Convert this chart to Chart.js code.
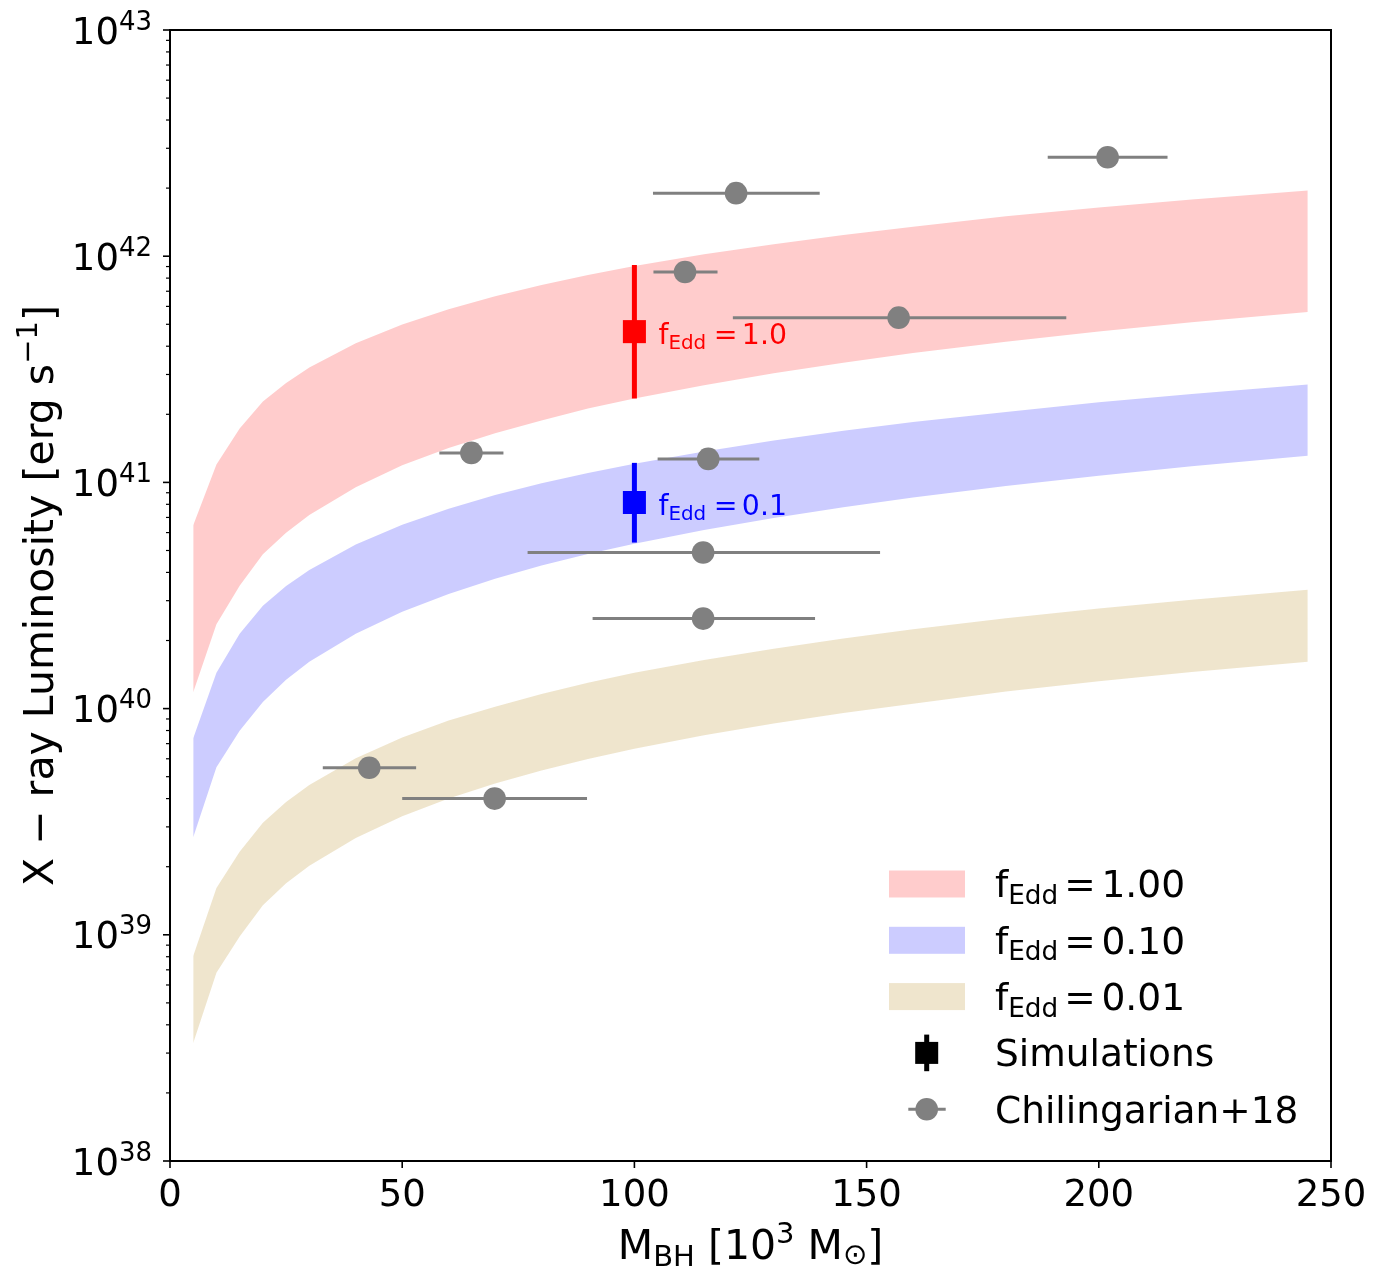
<!DOCTYPE html>
<html>
<head>
<meta charset="utf-8">
<script src="https://cdn.jsdelivr.net/npm/chart.js@4.4.0/dist/chart.umd.min.js"></script>
<style>
  body { margin: 0; background: #fff; }
  #wrap { width: 1383px; height: 1285px; }
</style>
</head>
<body>
<div id="wrap"><canvas id="chart"></canvas></div>
<script>
// black hole mass grid [10^3 Msun] used for the three bands
const massGrid = [5, 10, 15, 20, 25, 30, 40, 50, 60, 70, 80, 90, 100, 115, 130, 145, 160, 180, 200, 220, 245];

// band edges, X-ray luminosity [erg/s]
const redHi  = [6.47e40, 1.20e41, 1.73e41, 2.28e41, 2.75e41, 3.22e41, 4.12e41, 4.99e41, 5.83e41, 6.65e41, 7.46e41, 8.26e41, 9.04e41, 1.02e42, 1.13e42, 1.24e42, 1.35e42, 1.50e42, 1.64e42, 1.78e42, 1.95e42];
const redLo  = [1.18e40, 2.36e40, 3.49e40, 4.81e40, 5.99e40, 7.17e40, 9.52e40, 1.19e41, 1.42e41, 1.65e41, 1.88e41, 2.12e41, 2.35e41, 2.69e41, 3.04e41, 3.38e41, 3.73e41, 4.19e41, 4.65e41, 5.10e41, 5.67e41];
const blueHi = [7.40e39, 1.44e40, 2.14e40, 2.85e40, 3.48e40, 4.10e40, 5.31e40, 6.49e40, 7.64e40, 8.79e40, 9.91e40, 1.10e41, 1.21e41, 1.37e41, 1.53e41, 1.69e41, 1.85e41, 2.05e41, 2.26e41, 2.46e41, 2.71e41];
const blueLo = [2.70e39, 5.51e39, 7.98e39, 1.07e40, 1.34e40, 1.61e40, 2.14e40, 2.68e40, 3.21e40, 3.75e40, 4.29e40, 4.82e40, 5.36e40, 6.16e40, 6.96e40, 7.77e40, 8.57e40, 9.64e40, 1.07e41, 1.18e41, 1.31e41];
const tanHi  = [8.05e38, 1.61e39, 2.33e39, 3.13e39, 3.86e39, 4.59e39, 6.03e39, 7.45e39, 8.85e39, 1.02e40, 1.16e40, 1.30e40, 1.44e40, 1.64e40, 1.84e40, 2.04e40, 2.24e40, 2.51e40, 2.77e40, 3.03e40, 3.35e40];
const tanLo  = [3.32e38, 6.79e38, 9.82e38, 1.35e39, 1.69e39, 2.02e39, 2.68e39, 3.34e39, 4.00e39, 4.67e39, 5.32e39, 5.98e39, 6.64e39, 7.62e39, 8.59e39, 9.57e39, 1.05e40, 1.19e40, 1.32e40, 1.45e40, 1.61e40];
const bandLabels = ['1.00', '0.10', '0.01'];

// Chilingarian+18 points
const obsMass   = [201.9, 121.9, 110.9, 156.9, 64.9, 115.9, 114.8, 114.8, 42.9, 69.9];
const obsMassLo = [189.0, 104.0, 104.1, 121.2, 58.0, 105.0, 77.0, 91.0, 32.9, 50.0];
const obsMassHi = [214.8, 139.9, 117.9, 193.0, 71.8, 126.9, 152.9, 138.9, 53.0, 89.8];
const obsLum    = [2.74e42, 1.90e42, 8.51e41, 5.35e41, 1.35e41, 1.27e41, 4.90e40, 2.50e40, 5.48e39, 4.00e39];

// simulations
const simMass   = [100, 100];
const simLum    = [4.64e41, 8.15e40];
const simLumLo  = [2.35e41, 5.42e40];
const simLumHi  = [9.14e41, 1.22e41];
const simLabels = ['1.0', '0.1'];

// axis ticks
const xTicks = [0, 50, 100, 150, 200, 250];
const yExponents = [38, 39, 40, 41, 42, 43];

const FONT = "'DejaVu Sans', sans-serif";
const simColors = ['#ff0000', '#0000ff'];
const bandColors = ['rgba(255,0,0,0.2)', 'rgba(0,0,255,0.2)', 'rgba(215,190,130,0.4)'];
const GREY = '#808080';

function pts(xs, ys) {
  return xs.map((x, i) => ({ x: x, y: ys[i] }));
}

// text made of pieces (sub/superscripts)
function runsWidth(ctx, runs) {
  let w = 0;
  runs.forEach(r => {
    ctx.font = r.px + 'px ' + FONT;
    w += (r.gap || 0) + ctx.measureText(r.t).width;
  });
  return w;
}
function drawRuns(ctx, runs, x, y) {
  let cx = x;
  ctx.textAlign = 'left';
  ctx.textBaseline = 'alphabetic';
  runs.forEach(r => {
    cx += r.gap || 0;
    ctx.font = r.px + 'px ' + FONT;
    ctx.fillText(r.t, cx, y + (r.dy || 0));
    cx += ctx.measureText(r.t).width;
  });
  return cx;
}
function fEdd(size, value, g1, g2) {
  return [
    { t: 'f', px: size },
    { t: 'Edd', px: size * 0.7, dy: size * 0.18 },
    { t: '=', px: size, gap: size * g1 },
    { t: value, px: size, gap: size * g2 }
  ];
}

function bandSet(data, color, fill) {
  return {
    data: data, fill: fill, backgroundColor: color,
    borderColor: 'rgba(0,0,0,0)', borderWidth: 0,
    pointRadius: 0, showLine: true, order: 10
  };
}

const errorBars = {
  id: 'errorBars',
  beforeDatasetsDraw(chart) {
    const { ctx, scales: { x, y } } = chart;
    ctx.save();
    ctx.lineCap = 'butt';
    ctx.strokeStyle = GREY;
    ctx.lineWidth = 3;
    obsMass.forEach((m, i) => {
      const py = y.getPixelForValue(obsLum[i]);
      ctx.beginPath();
      ctx.moveTo(x.getPixelForValue(obsMassLo[i]), py);
      ctx.lineTo(x.getPixelForValue(obsMassHi[i]), py);
      ctx.stroke();
    });
    ctx.lineWidth = 5;
    simMass.forEach((m, i) => {
      const px = x.getPixelForValue(m);
      ctx.strokeStyle = simColors[i];
      ctx.beginPath();
      ctx.moveTo(px, y.getPixelForValue(simLumLo[i]));
      ctx.lineTo(px, y.getPixelForValue(simLumHi[i]));
      ctx.stroke();
    });
    ctx.restore();
  }
};

const decorations = {
  id: 'decorations',
  afterDraw(chart) {
    const { ctx, chartArea: a, scales: { x, y } } = chart;
    ctx.save();
    ctx.fillStyle = '#000';
    ctx.strokeStyle = '#000';

    // y ticks, major and minor
    yExponents.forEach((e, k) => {
      const py = y.getPixelForValue(Math.pow(10, e));
      ctx.lineWidth = 1.6;
      ctx.beginPath(); ctx.moveTo(a.left - 7, py); ctx.lineTo(a.left, py); ctx.stroke();
      const runs = [{ t: '10', px: 37 }, { t: String(e), px: 26, dy: -14 }];
      drawRuns(ctx, runs, 152 - runsWidth(ctx, runs), py + 13.6);
      if (k < yExponents.length - 1) {
        ctx.lineWidth = 1.2;
        for (let m = 2; m <= 9; m++) {
          const pm = y.getPixelForValue(m * Math.pow(10, e));
          ctx.beginPath(); ctx.moveTo(a.left - 4, pm); ctx.lineTo(a.left, pm); ctx.stroke();
        }
      }
    });

    // x ticks
    ctx.lineWidth = 1.6;
    ctx.font = '37px ' + FONT;
    ctx.textAlign = 'center';
    xTicks.forEach(v => {
      const px = x.getPixelForValue(v);
      ctx.beginPath(); ctx.moveTo(px, a.bottom); ctx.lineTo(px, a.bottom + 7); ctx.stroke();
      ctx.fillText(String(v), px, 1205.7);
    });

    // frame
    ctx.lineWidth = 2;
    ctx.strokeRect(a.left, a.top, a.right - a.left, a.bottom - a.top);

    // axis titles
    const xRuns = [
      { t: 'M', px: 41 }, { t: 'BH', px: 29, dy: 6.7 },
      { t: ' [10', px: 41 }, { t: '3', px: 29, dy: -16.6 },
      { t: ' M', px: 41 }, { t: '\u2299', px: 29, dy: 5 }, { t: ']', px: 41 }
    ];
    drawRuns(ctx, xRuns, (a.left + a.right) / 2 - runsWidth(ctx, xRuns) / 2, 1259.3);

    const yRuns = [
      { t: 'X \u2212 ray Luminosity [erg s', px: 41 },
      { t: '\u22121', px: 29, dy: -16.6 }, { t: ']', px: 41 }
    ];
    ctx.save();
    ctx.translate(53.3, (a.top + a.bottom) / 2);
    ctx.rotate(-Math.PI / 2);
    drawRuns(ctx, yRuns, -runsWidth(ctx, yRuns) / 2, 0);
    ctx.restore();

    // annotations next to the simulation points
    simMass.forEach((m, i) => {
      ctx.fillStyle = simColors[i];
      drawRuns(ctx, fEdd(28.4, simLabels[i], 0.27, 0.15), x.getPixelForValue(m) + 24, y.getPixelForValue(simLum[i]) + 12.3);
    });

    // legend
    const rows = [884, 940.3, 996.6, 1052.9, 1109.2];
    const textX = 995;
    bandLabels.forEach((lab, i) => {
      ctx.fillStyle = bandColors[i];
      ctx.fillRect(889, rows[i] - 13.5, 76, 27);
      ctx.fillStyle = '#000';
      drawRuns(ctx, fEdd(37.6, lab, 0.16, 0.15), textX, rows[i] + 13.3);
    });
    // simulations marker
    ctx.fillStyle = '#000';
    ctx.fillRect(926.7 - 2.5, rows[3] - 18.3, 5, 36.6);
    ctx.fillRect(926.7 - 11.5, rows[3] - 11, 23, 22);
    drawRuns(ctx, [{ t: 'Simulations', px: 37.5 }], textX, rows[3] + 13.3);
    // chilingarian marker
    ctx.strokeStyle = GREY;
    ctx.lineWidth = 3;
    ctx.beginPath(); ctx.moveTo(908.3, rows[4]); ctx.lineTo(945.7, rows[4]); ctx.stroke();
    ctx.fillStyle = GREY;
    ctx.beginPath(); ctx.arc(926.7, rows[4], 11.3, 0, Math.PI * 2); ctx.fill();
    ctx.fillStyle = '#000';
    drawRuns(ctx, [{ t: 'Chilingarian+18', px: 37.5 }], textX, rows[4] + 13.3);

    ctx.restore();
  }
};

new Chart(document.getElementById('chart'), {
  type: 'line',
  data: {
    datasets: [
      {
        data: pts(simMass, simLum), showLine: false, pointStyle: 'rect',
        pointRadius: 16.3, pointBackgroundColor: simColors, pointBorderWidth: 0, order: 0
      },
      {
        data: pts(obsMass, obsLum), showLine: false, pointStyle: 'circle',
        pointRadius: 11.3, pointBackgroundColor: GREY, pointBorderWidth: 0, order: 1
      },
      bandSet(pts(massGrid, redHi), bandColors[0], '+1'),
      bandSet(pts(massGrid, redLo), bandColors[0], false),
      bandSet(pts(massGrid, blueHi), bandColors[1], '+1'),
      bandSet(pts(massGrid, blueLo), bandColors[1], false),
      bandSet(pts(massGrid, tanHi), bandColors[2], '+1'),
      bandSet(pts(massGrid, tanLo), bandColors[2], false)
    ]
  },
  options: {
    responsive: true,
    maintainAspectRatio: false,
    animation: false,
    layout: { padding: { top: 30, right: 52, left: 0, bottom: 0 } },
    plugins: {
      legend: { display: false },
      tooltip: { enabled: false },
      filler: { drawTime: 'beforeDatasetsDraw' }
    },
    scales: {
      x: {
        type: 'linear', min: 0, max: 250,
        grid: { display: false }, border: { display: false },
        ticks: { display: false },
        afterFit: s => { s.height = 124; }
      },
      y: {
        type: 'logarithmic', min: 1e38, max: 1e43,
        grid: { display: false }, border: { display: false },
        ticks: { display: false },
        afterFit: s => { s.width = 170; }
      }
    }
  },
  plugins: [errorBars, decorations]
});
</script>
</body>
</html>
